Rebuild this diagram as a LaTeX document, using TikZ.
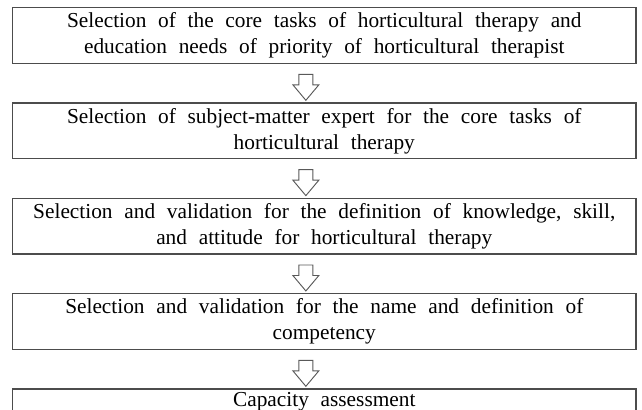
\documentclass[tikz,border=0pt]{standalone}
\usepackage{fontspec}
\setmainfont{Liberation Serif}
\usetikzlibrary{positioning,shapes.arrows,calc}
\newcommand{\stagefont}{\fontsize{16}{19.5}\selectfont\spaceskip=0.55em plus 0.1em\relax}

\begin{document}
\begin{tikzpicture}[
    node distance=28.9pt,
    stage/.style={rectangle, draw=black!70, line width=1pt, minimum width=467.6pt, minimum height=41.6pt, align=center, inner sep=0pt, font=\stagefont},
    flow/.style={single arrow, draw=black!65, line width=0.7pt, fill=white, rotate=-90, minimum height=19.5pt, inner xsep=0pt, inner ysep=4.9pt, single arrow head extend=4.5pt, single arrow tip angle=80}
]
\clip (0,0) rectangle (481.5pt,-307.5pt);

% Stages
\node[stage] (tasks) at (243.2pt,-26.6pt) {Selection of the core tasks of horticultural therapy and\\education needs of priority of horticultural therapist};
\node[stage, below=of tasks] (expert) {Selection of subject-matter expert for the core tasks of\\horticultural therapy};
\node[stage, below=of expert] (ksa) {Selection and validation for the definition of knowledge, skill,\\and attitude for horticultural therapy};
\node[stage, below=of ksa] (name) {Selection and validation for the name and definition of\\competency};
\node[stage, minimum height=19pt, below=of name] (assess) {Capacity assessment};

% Arrows between stages
\node[flow] (a1) at ($(tasks.south)!0.5!(expert.north)+(-13.8pt,0)$) {};
\node[flow] (a2) at ($(expert.south)!0.5!(ksa.north)+(-13.8pt,0)$) {};
\node[flow] (a3) at ($(ksa.south)!0.5!(name.north)+(-13.8pt,0)$) {};
\node[flow] (a4) at ($(name.south)!0.5!(assess.north)+(-13.8pt,0)$) {};

\end{tikzpicture}
\end{document}
